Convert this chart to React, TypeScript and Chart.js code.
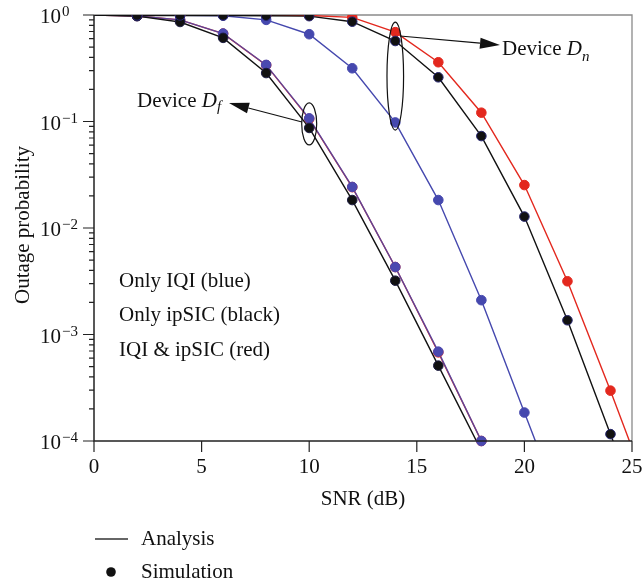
import React, { useEffect, useRef } from 'react';
import { Chart, registerables } from 'chart.js';

Chart.register(...registerables);

// SNR grid (dB)
const snr = [0, 2, 4, 6, 8, 10, 12, 14, 16, 18, 20, 22, 24, 26];

// Device D_f (far user)
const dfIqi = [1, 0.98, 0.9, 0.67, 0.34, 0.107, 0.0243, 0.0043, 0.00069, 0.0001];
const dfIpsic = [1, 0.975, 0.86, 0.61, 0.285, 0.087, 0.0183, 0.0032, 0.00051, 0.000081];
const dfBoth = [1, 0.98, 0.9, 0.668, 0.338, 0.106, 0.0242, 0.0043, 0.00068, 0.0001];

// Device D_n (near user)
const dnIqi = [1, 1, 0.995, 0.985, 0.9, 0.66, 0.316, 0.098, 0.0183, 0.0021, 0.000185, 0.0000166];
const dnIpsic = [1, 0.99, 0.99, 0.99, 0.985, 0.975, 0.865, 0.57, 0.26, 0.073, 0.0128, 0.00136, 0.000116, 0.0000095];
const dnBoth = [1, 1, 1, 1, 0.998, 0.99, 0.95, 0.69, 0.36, 0.121, 0.0253, 0.00316, 0.000297, 0.000025];

const xTicks = [0, 5, 10, 15, 20, 25];
const yExponents = [0, -1, -2, -3, -4];
const noteLines = ['Only IQI (blue)', 'Only ipSIC (black)', 'IQI & ipSIC (red)'];
const legendItems = ['Analysis', 'Simulation'];

const BLUE = '#4548ae';
const RED = '#e3281e';
const BLACK = '#111111';
const FONT = '"Liberation Serif", "Times New Roman", serif';

const toLine = (arr: number[]) => arr.map((y, i) => ({ x: snr[i], y }));
const toSim = (arr: number[]) =>
  arr
    .map((y, i) => ({ x: snr[i], y }))
    .filter((p) => p.x >= 2 && p.x <= 24 && p.y >= 0.0000999);

function lineDs(arr: number[], color: string, order: number) {
  return {
    data: toLine(arr),
    borderColor: color,
    backgroundColor: color,
    borderWidth: 1.4,
    pointRadius: 0,
    tension: 0,
    order,
    clip: 0,
  };
}

function simDs(arr: number[], fill: string, border: string, order: number) {
  return {
    data: toSim(arr),
    showLine: false,
    backgroundColor: fill,
    borderColor: border,
    borderWidth: 1,
    pointRadius: 4.8,
    pointHoverRadius: 4.8,
    order,
    clip: { left: 10, right: 10, top: 0, bottom: 10 },
  };
}

const decorPlugin = {
  id: 'decor',
  beforeDatasetsDraw(chart: any) {
    const { ctx, chartArea } = chart;
    const { left, right, top, bottom } = chartArea;
    ctx.save();
    ctx.strokeStyle = '#8a8a8a';
    ctx.lineWidth = 1.3;
    ctx.beginPath();
    ctx.moveTo(left, top);
    ctx.lineTo(right, top);
    ctx.lineTo(right, bottom);
    ctx.stroke();
    ctx.restore();
  },
  afterDatasetsDraw(chart: any) {
    const { ctx, chartArea, scales } = chart;
    const { left, right, top, bottom } = chartArea;
    const xs = scales.x;
    const ys = scales.y;
    ctx.save();

    // axes
    ctx.strokeStyle = '#222';
    ctx.lineWidth = 1.5;
    ctx.beginPath();
    ctx.moveTo(left, top);
    ctx.lineTo(left, bottom);
    ctx.lineTo(right, bottom);
    ctx.stroke();

    // y ticks
    ctx.lineWidth = 1.2;
    ctx.beginPath();
    yExponents.forEach((e) => {
      const y = ys.getPixelForValue(Math.pow(10, e));
      ctx.moveTo(left - 11, y);
      ctx.lineTo(left, y);
      if (e > -4) {
        for (let m = 2; m <= 9; m++) {
          const ym = ys.getPixelForValue(m * Math.pow(10, e - 1));
          ctx.moveTo(left - 5, ym);
          ctx.lineTo(left, ym);
        }
      }
    });
    // x ticks
    xTicks.forEach((v) => {
      const x = xs.getPixelForValue(v);
      ctx.moveTo(x, bottom);
      ctx.lineTo(x, bottom + 11);
    });
    ctx.stroke();

    ctx.fillStyle = '#111';
    // y labels
    yExponents.forEach((e) => {
      const y = ys.getPixelForValue(Math.pow(10, e));
      ctx.font = `21px ${FONT}`;
      ctx.textAlign = 'left';
      ctx.textBaseline = 'alphabetic';
      ctx.fillText('10', 40, y + 8);
      const w = ctx.measureText('10').width;
      ctx.font = `15px ${FONT}`;
      ctx.fillText(e === 0 ? '0' : '\u2212' + String(-e), 40 + w + 1, y + 1);
    });

    // x labels
    ctx.font = `21px ${FONT}`;
    ctx.textAlign = 'center';
    ctx.textBaseline = 'middle';
    xTicks.forEach((v) => {
      ctx.fillText(String(v), xs.getPixelForValue(v), 467);
    });
    ctx.fillText('SNR (dB)', (left + right) / 2, 499);

    // y title
    ctx.save();
    ctx.translate(23, 225);
    ctx.rotate(-Math.PI / 2);
    ctx.fillText('Outage probability', 0, 0);
    ctx.restore();

    // notes
    ctx.textAlign = 'left';
    ctx.textBaseline = 'alphabetic';
    noteLines.forEach((t, i) => {
      ctx.fillText(t, 119, 287 + i * 34.3);
    });

    // ellipses
    ctx.strokeStyle = '#111';
    ctx.lineWidth = 1.2;
    const ellipse = (cx: number, cy: number, rx: number, ry: number) => {
      ctx.beginPath();
      ctx.ellipse(cx, cy, rx, ry, 0, 0, Math.PI * 2);
      ctx.stroke();
    };
    ellipse(xs.getPixelForValue(10), ys.getPixelForValue(0.095), 7.5, 21);
    ellipse(xs.getPixelForValue(14), ys.getPixelForValue(0.267), 8.3, 54);

    // arrows
    const arrow = (x0: number, y0: number, x1: number, y1: number) => {
      const a = Math.atan2(y1 - y0, x1 - x0);
      const len = 20;
      const hw = 5.5;
      const bx = x1 - len * Math.cos(a);
      const by = y1 - len * Math.sin(a);
      ctx.beginPath();
      ctx.moveTo(x0, y0);
      ctx.lineTo(bx, by);
      ctx.stroke();
      ctx.beginPath();
      ctx.moveTo(x1, y1);
      ctx.lineTo(bx + hw * Math.sin(a), by - hw * Math.cos(a));
      ctx.lineTo(bx - hw * Math.sin(a), by + hw * Math.cos(a));
      ctx.closePath();
      ctx.fill();
    };
    arrow(302, 122, 229, 103);
    arrow(400, 36, 500, 45);

    // device labels
    const device = (x: number, base: number, sub: string, subDy: number) => {
      ctx.font = `21px ${FONT}`;
      ctx.fillText('Device ', x, base);
      let cx = x + ctx.measureText('Device ').width;
      ctx.font = `italic 21px ${FONT}`;
      ctx.fillText('D', cx, base);
      cx += ctx.measureText('D').width;
      ctx.font = `italic 15px ${FONT}`;
      ctx.fillText(sub, cx, base + subDy);
    };
    device(137, 107, 'f', 4);
    device(502, 55, 'n', 6);

    // legend
    ctx.strokeStyle = '#333';
    ctx.lineWidth = 1.5;
    ctx.beginPath();
    ctx.moveTo(95, 539);
    ctx.lineTo(128, 539);
    ctx.stroke();
    ctx.beginPath();
    ctx.arc(111, 572, 4.8, 0, Math.PI * 2);
    ctx.fill();
    ctx.font = `21px ${FONT}`;
    ctx.textBaseline = 'middle';
    legendItems.forEach((t, i) => {
      ctx.fillText(t, 141, 539 + i * 33);
    });

    ctx.restore();
  },
};

export default function App() {
  const canvasRef = useRef<HTMLCanvasElement | null>(null);

  useEffect(() => {
    if (!canvasRef.current) return;
    const chart = new Chart(canvasRef.current, {
      type: 'line',
      data: {
        datasets: [
          lineDs(dnBoth, RED, 20),
          lineDs(dfBoth, RED, 20),
          lineDs(dnIqi, BLUE, 19),
          lineDs(dfIqi, 'rgba(69,72,174,0.85)', 19),
          lineDs(dnIpsic, BLACK, 18),
          lineDs(dfIpsic, BLACK, 18),
          simDs(dnBoth, RED, RED, 10),
          simDs(dfBoth, RED, RED, 10),
          simDs(dnIqi, BLUE, BLUE, 9),
          simDs(dfIqi, '#4a49b0', '#4a49b0', 9),
          simDs(dnIpsic, BLACK, '#262670', 8),
          simDs(dfIpsic, BLACK, '#1a1a40', 8),
        ] as any,
      },
      options: {
        animation: false,
        responsive: true,
        maintainAspectRatio: false,
        events: [],
        layout: { padding: { top: 15, right: 12, left: 0, bottom: 0 } },
        plugins: { legend: { display: false }, tooltip: { enabled: false } },
        scales: {
          x: {
            type: 'linear',
            min: 0,
            max: 25,
            ticks: { display: false },
            grid: { display: false },
            border: { display: false },
            afterFit: (s: any) => {
              s.height = 142;
            },
          },
          y: {
            type: 'logarithmic',
            min: 0.0001,
            max: 1,
            ticks: { display: false },
            grid: { display: false },
            border: { display: false },
            afterFit: (s: any) => {
              s.width = 94;
            },
          },
        },
      },
      plugins: [decorPlugin],
    });
    return () => chart.destroy();
  }, []);

  return (
    <div style={{ position: 'fixed', left: 0, top: 0, width: 644, height: 583, background: '#fff' }}>
      <canvas ref={canvasRef} />
    </div>
  );
}
